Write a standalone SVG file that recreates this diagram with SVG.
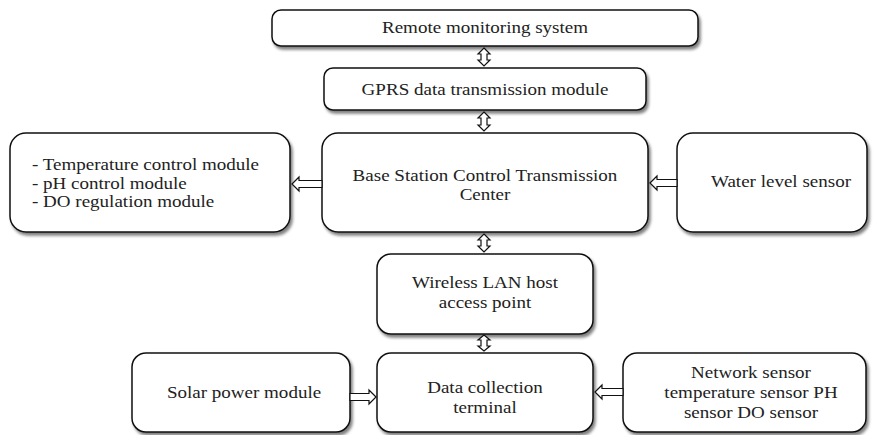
<svg xmlns="http://www.w3.org/2000/svg" width="877" height="435" viewBox="0 0 877 435">
<defs>
<filter id="sh" x="-5%" y="-5%" width="115%" height="125%">
<feGaussianBlur in="SourceAlpha" stdDeviation="1.5"/>
<feOffset dx="2" dy="2.5" result="b"/>
<feComponentTransfer><feFuncA type="linear" slope="0.5"/></feComponentTransfer>
<feMerge><feMergeNode/><feMergeNode in="SourceGraphic"/></feMerge>
</filter>
</defs>
<style>
.box{fill:#fff;stroke:#111;stroke-width:1.5;filter:url(#sh)}
.t{font-family:"Liberation Serif","Times New Roman",serif;font-size:17px;fill:#222;text-anchor:middle}
.tl{font-family:"Liberation Serif","Times New Roman",serif;font-size:17px;fill:#222}
.ar{fill:#fff;stroke:#111;stroke-width:1.2;stroke-linejoin:miter}
</style>
<rect width="877" height="435" fill="#fff"/>
<g id="remote"><rect class="box" x="272" y="10" width="426" height="36" rx="9"/><text class="t" transform="translate(485,33) scale(1.12,1)">Remote monitoring system</text></g>
<g id="gprs"><rect class="box" x="324" y="68" width="322" height="42" rx="9"/><text class="t" transform="translate(485,95) scale(1.12,1)">GPRS data transmission module</text></g>
<g id="base"><rect class="box" x="322" y="133" width="326" height="99" rx="16"/><text class="t" transform="translate(485,181) scale(1.12,1)">Base Station Control Transmission</text><text class="t" transform="translate(485,200) scale(1.12,1)">Center</text></g>
<g id="control"><rect class="box" x="10" y="133" width="280" height="99" rx="16"/><text class="tl" transform="translate(32,170) scale(1.12,1)">- Temperature control module</text><text class="tl" transform="translate(32,188.5) scale(1.12,1)">- pH control module</text><text class="tl" transform="translate(32,207) scale(1.12,1)">- DO regulation module</text></g>
<g id="water"><rect class="box" x="677" y="133" width="190" height="99" rx="16"/><text class="t" transform="translate(781,187) scale(1.12,1)">Water level sensor</text></g>
<g id="wlan"><rect class="box" x="377" y="254" width="216" height="80" rx="14"/><text class="t" transform="translate(485,288) scale(1.12,1)">Wireless LAN host</text><text class="t" transform="translate(485,308) scale(1.12,1)">access point</text></g>
<g id="solar"><rect class="box" x="132" y="353" width="218" height="79" rx="14"/><text class="t" transform="translate(244,398) scale(1.12,1)">Solar power module</text></g>
<g id="dct"><rect class="box" x="377" y="353" width="216" height="79" rx="14"/><text class="t" transform="translate(485,393) scale(1.12,1)">Data collection</text><text class="t" transform="translate(485,413) scale(1.12,1)">terminal</text></g>
<g id="sensors"><rect class="box" x="623" y="353" width="243" height="79" rx="14"/><text class="t" transform="translate(751,378) scale(1.12,1)">Network sensor</text><text class="t" transform="translate(751,398) scale(1.12,1)">temperature sensor PH</text><text class="t" transform="translate(751,418) scale(1.12,1)">sensor DO sensor</text></g>
<g id="connectors">
<path class="ar" d="M484,48 L490,54 L487,54 L487,60 L490,60 L484,66 L478,60 L481,60 L481,54 L478,54 Z"/>
<path class="ar" d="M484,112 L490,118 L487,118 L487,125 L490,125 L484,131 L478,125 L481,125 L481,118 L478,118 Z"/>
<path class="ar" d="M484,234 L490,240 L487,240 L487,246 L490,246 L484,252 L478,246 L481,246 L481,240 L478,240 Z"/>
<path class="ar" d="M484,335 L490,340 L487,340 L487,346 L490,346 L484,351 L478,346 L481,346 L481,340 L478,340 Z"/>
<path class="ar" d="M292,184 L299,177 L299,180.5 L322,180.5 L322,187.5 L299,187.5 L299,191 Z"/>
<path class="ar" d="M650,183 L657,176 L657,179.5 L677,179.5 L677,186.5 L657,186.5 L657,190 Z"/>
<path class="ar" d="M376,397 L369,390 L369,393.5 L350,393.5 L350,400.5 L369,400.5 L369,404 Z"/>
<path class="ar" d="M595,392 L602,385 L602,388.5 L623,388.5 L623,395.5 L602,395.5 L602,399 Z"/>
</g>
</svg>
